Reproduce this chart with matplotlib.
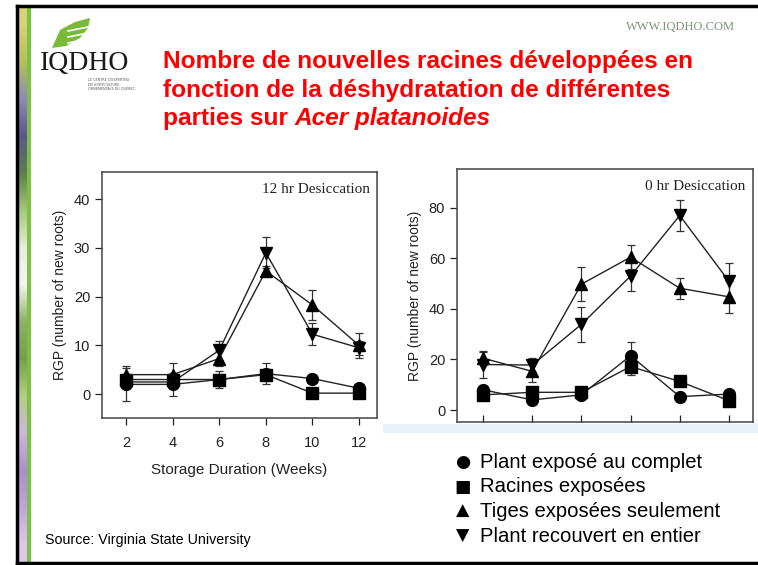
import matplotlib
matplotlib.use("Agg")
import matplotlib.pyplot as plt
import numpy as np
from matplotlib.lines import Line2D
from matplotlib.patches import Rectangle, Polygon

# ---------------- data ----------------
weeks = [2, 4, 6, 8, 10, 12]
x_tick_labels = ["2", "4", "6", "8", "10", "12"]

# 12 hr desiccation (left panel)
l_circle = [2.0, 2.0, 3.0, 4.2, 3.2, 1.2]
l_square = [3.0, 3.0, 3.0, 4.0, 0.2, 0.2]
l_up = [4.0, 4.0, 7.3, 25.3, 18.3, 10.0]
l_down = [2.5, 2.5, 9.0, 29.0, 12.3, 9.5]
l_circle_err = [3.4, 2.3, 1.8, 2.2, 0.8, 0.5]
l_square_err = [1.0, 1.0, 0.8, 1.0, 0.3, 0.3]
l_up_err = [1.8, 2.3, 1.5, 1.0, 3.0, 2.5]
l_down_err = [1.0, 1.0, 2.0, 3.2, 2.2, 1.5]
l_yticks = [0, 10, 20, 30, 40]

# 0 hr desiccation (right panel)
r_circle = [8.0, 4.0, 6.0, 21.5, 5.3, 6.3]
r_square = [6.0, 7.0, 7.0, 17.2, 11.3, 3.7]
r_up = [20.5, 15.3, 49.8, 60.5, 48.2, 44.8]
r_down = [18.0, 17.8, 33.9, 53.0, 77.0, 51.0]
r_circle_err = [1.5, 1.2, 1.0, 5.5, 1.0, 1.0]
r_square_err = [1.5, 1.2, 1.0, 3.2, 1.0, 1.0]
r_up_err = [2.5, 4.3, 6.7, 4.7, 4.2, 6.3]
r_down_err = [5.5, 2.7, 7.0, 6.0, 6.0, 7.0]
r_yticks = [0, 20, 40, 60, 80]

legend_labels = ["Plant exposé au complet", "Racines exposées",
                 "Tiges exposées seulement", "Plant recouvert en entier"]
legend_glyphs = ["●", "■", "▲", "▼"]

W, H = 758, 565
fig = plt.figure(figsize=(W / 100, H / 100), dpi=100)
fig.patch.set_facecolor("white")

def fx(px):
    return px / W

def fy(py):
    return 1 - py / H

# ---------------- decorative frame ----------------
strip_colors = ["#d6d27a", "#b8c05c", "#8f8ab6", "#5a5690", "#5f7d4e", "#a6c77a",
                "#e6eedb", "#f4f7f0", "#8fb068", "#74a04c", "#b5cc86", "#cdb8dc",
                "#ab90cc", "#bea6d8", "#dccaea"]
strip_ax = fig.add_axes([fx(18), fy(563), fx(9), (563 - 6) / H])
rgb = np.array([matplotlib.colors.to_rgb(c) for c in strip_colors])[:, None, :]
rgb = np.repeat(rgb, 3, axis=1)
strip_ax.imshow(rgb, aspect="auto", interpolation="bilinear")
strip_ax.axis("off")
fig.add_artist(Rectangle((fx(27), fy(563)), fx(4), (563 - 6) / H,
                         transform=fig.transFigure, color="#7cc242", lw=0))
fig.add_artist(Line2D([fx(17), fx(17)], [fy(6), fy(563)], transform=fig.transFigure,
                      color="black", lw=2.5))
fig.add_artist(Line2D([fx(17), 1], [fy(6), fy(6)], transform=fig.transFigure,
                      color="black", lw=2.5))
fig.add_artist(Line2D([fx(17), 1], [fy(563), fy(563)], transform=fig.transFigure,
                      color="black", lw=2.5))

# logo
leaf = Polygon([(fx(52), fy(48)), (fx(60), fy(30)), (fx(75), fy(22)), (fx(90), fy(18)),
                (fx(88), fy(28)), (fx(80), fy(38)), (fx(66), fy(46))],
               closed=True, transform=fig.transFigure, color="#7aba3a", lw=0)
fig.add_artist(leaf)
for yy in [27, 33, 39]:
    fig.add_artist(Line2D([fx(68), fx(88)], [fy(yy + 4), fy(yy)], transform=fig.transFigure,
                          color="white", lw=1.2))
fig.text(fx(40), fy(64), "IQDHO", family="Liberation Serif", fontsize=20,
         color="#1a1a1a", va="center", ha="left")
for i, t in enumerate(["LE CENTRE D'EXPERTISE", "EN HORTICULTURE", "ORNEMENTALE DU QUÉBEC"]):
    fig.text(fx(88), fy(80 + 4.5 * i), t, fontsize=2.4, color="#555555",
             va="center", ha="left")
fig.text(fx(735), fy(27), "WWW.IQDHO.COM", family="Liberation Serif", fontsize=9,
         color="#7a957a", ha="right", va="center")

# title
title_kw = dict(family="Liberation Sans", fontsize=17.6, fontweight="bold", color="#ff0000",
                ha="left", va="baseline")
fig.text(fx(163), fy(68), "Nombre de nouvelles racines développées en", **title_kw)
fig.text(fx(163), fy(96.5), "fonction de la déshydratation de différentes", **title_kw)
t3 = fig.text(fx(163), fy(125), "parties sur ", **title_kw)
fig.canvas.draw()
bb = t3.get_window_extent(renderer=fig.canvas.get_renderer())
fig.text(bb.x1 / (W), fy(125), "Acer platanoides", style="italic", **title_kw)

# light blue band under right panel
fig.add_artist(Rectangle((fx(383), fy(433)), fx(375), 9 / H, transform=fig.transFigure,
                         color="#e8f1fa", lw=0))

# ---------------- panels ----------------
def panel(ax, series, errs, yticks, ylim, xlim, label, xdir, show_xlabels):
    markers = ["o", "s", "^", "v"]
    for y, e, m in zip(series, errs, markers):
        ax.errorbar(weeks, y, yerr=e, fmt="-", marker=m, color="#222222",
                    ecolor="#333333", elinewidth=0.9, capsize=3, capthick=0.9,
                    markersize=8.5, markerfacecolor="black", markeredgecolor="black",
                    lw=1.0)
    ax.set_xlim(*xlim)
    ax.set_ylim(*ylim)
    ax.set_yticks(yticks)
    ax.set_xticks(weeks)
    if show_xlabels:
        ax.set_xticklabels(x_tick_labels)
    else:
        ax.set_xticklabels([])
    for s in ax.spines.values():
        s.set_color("#444444")
        s.set_linewidth(1.1)
    ax.tick_params(axis="y", direction="out", length=5, width=0.9, labelsize=10.5,
                   colors="#222222")
    ax.tick_params(axis="x", direction=xdir, length=5, width=0.9, labelsize=10.5,
                   colors="#222222", pad=8)
    for lab in ax.get_xticklabels() + ax.get_yticklabels():
        lab.set_family("Liberation Sans")
    ax.set_ylabel("RGP (number of new roots)", family="Liberation Sans", fontsize=10,
                  color="#222222", labelpad=5)
    ax.text(0.975, 0.955, label, transform=ax.transAxes, ha="right", va="top",
            family="Liberation Serif", fontsize=11, color="#222222")

axL = fig.add_axes([fx(102), fy(418), fx(275), (418 - 172) / H])
panel(axL, [l_circle, l_square, l_up, l_down],
      [l_circle_err, l_square_err, l_up_err, l_down_err],
      l_yticks, (-4.9, 45.6), (0.97, 12.77), "12 hr Desiccation", "out", True)
axL.set_xlabel("Storage Duration (Weeks)", family="Liberation Sans", fontsize=11,
               color="#222222", labelpad=9)

axR = fig.add_axes([fx(457), fy(422), fx(296), (422 - 169) / H])
panel(axR, [r_circle, r_square, r_up, r_down],
      [r_circle_err, r_square_err, r_up_err, r_down_err],
      r_yticks, (-4.75, 95.4), (0.94, 12.98), "0 hr Desiccation", "in", False)

# ---------------- legend ----------------
for i, (g, t) in enumerate(zip(legend_glyphs, legend_labels)):
    yy = fy(462 + 24.7 * i)
    fig.text(fx(463), yy, g, family="DejaVu Sans", fontsize=12.5, ha="center",
             va="center", color="black")
    fig.text(fx(480), yy, t, family="Liberation Sans", fontsize=14.6, ha="left",
             va="center", color="black")

fig.text(fx(45), fy(540), "Source: Virginia State University", family="Liberation Sans",
         fontsize=10.3, ha="left", va="center", color="black")

fig.savefig("out.png", dpi=100)
